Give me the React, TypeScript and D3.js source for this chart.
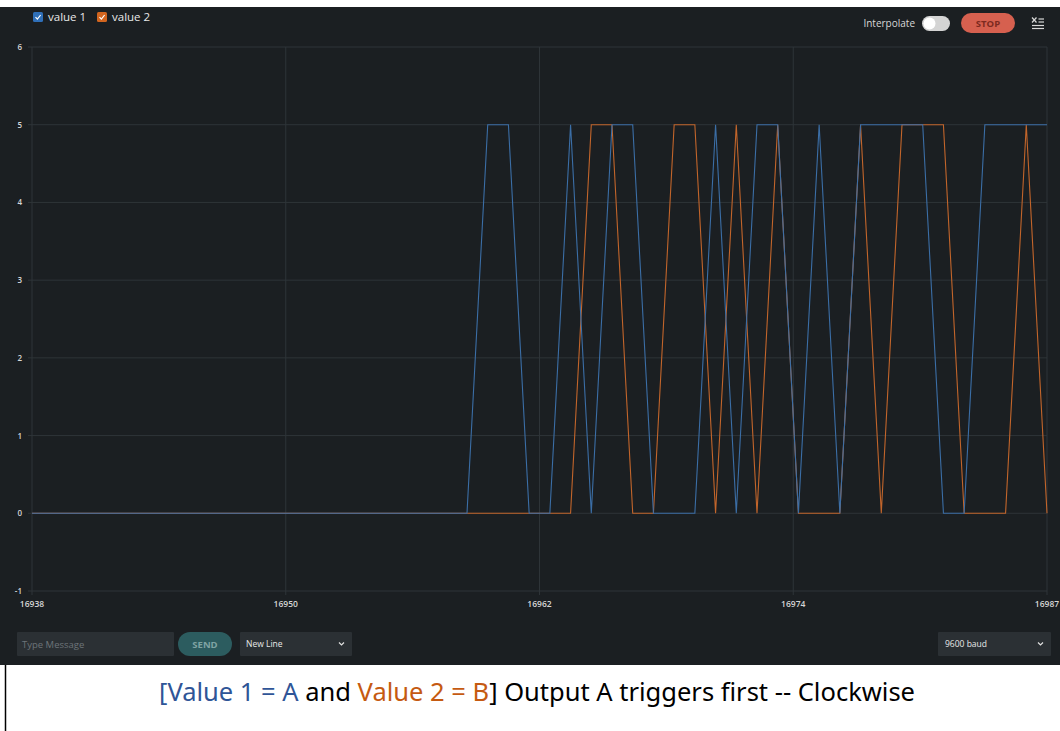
import React from "react";
import * as d3 from "d3";

// ---- data ----
const sampleStart = 16938;
const value1 = [
  0, 0, 0, 0, 0, 0, 0, 0, 0, 0, 0, 0, 0, 0, 0, 0, 0, 0, 0, 0, 0, 0,
  5, 5, 0, 0, 5, 0, 5, 5, 0, 0, 0, 5, 0, 5, 5, 0, 5, 0, 5, 5, 5, 5, 0, 0, 5, 5, 5, 5,
];
const value2 = [
  0, 0, 0, 0, 0, 0, 0, 0, 0, 0, 0, 0, 0, 0, 0, 0, 0, 0, 0, 0, 0, 0, 0, 0, 0, 0, 0,
  5, 5, 0, 0, 5, 5, 0, 5, 0, 5, 0, 0, 0, 5, 0, 5, 5, 5, 0, 0, 0, 5, 0,
];
const seriesNames = ["value 1", "value 2"];
const seriesColors = ["#2f6fb8", "#d2651f"];
const lineColors = ["#3b6ea6", "#c2652b"];
const xTickValues = [16938, 16950.25, 16962.5, 16974.75, 16987];
const xTickLabels = ["16938", "16950", "16962", "16974", "16987"];
const yTickValues = [-1, 0, 1, 2, 3, 4, 5, 6];

const W = 1060;
const H = 731;
const FONT = "'Open Sans', 'Noto Sans', sans-serif";

export default function App() {
  const x = d3.scaleLinear().domain([16938, 16987]).range([32, 1047]);
  const y = d3.scaleLinear().domain([-1, 6]).range([591, 47]);
  const line = d3
    .line<number>()
    .x((_, i) => x(sampleStart + i))
    .y((d) => y(d));
  const bg = "#1b1f22";
  const grid = "#2e3438";
  const series = [value1, value2];

  return (
    <svg
      width={W}
      height={H}
      style={{ position: "absolute", left: 0, top: 0, background: "#ffffff" }}
      fontFamily={FONT}
    >
      <rect x={0} y={7} width={W} height={658} fill={bg} />
      {/* grid */}
      {yTickValues.map((v) => (
        <g key={"y" + v}>
          <line x1={28} x2={1047} y1={y(v)} y2={y(v)} stroke={grid} strokeWidth={1} />
          <text x={22} y={y(v) + 3} fill="#d6d6d6" fontSize={8} fontWeight={600} textAnchor="end">
            {v}
          </text>
        </g>
      ))}
      {xTickValues.map((v, i) => (
        <g key={"x" + v}>
          <line x1={x(v)} x2={x(v)} y1={47} y2={595} stroke={grid} strokeWidth={1} />
          <text x={x(v)} y={607} fill="#d6d6d6" fontSize={8.5} fontWeight={600} textAnchor="middle">
            {xTickLabels[i]}
          </text>
        </g>
      ))}
      {/* series: value 2 first so value 1 is on top */}
      {[1, 0].map((s) => (
        <path
          key={"s" + s}
          d={line(series[s]) || ""}
          fill="none"
          stroke={lineColors[s]}
          strokeWidth={1.1}
          strokeLinejoin="miter"
        />
      ))}
      {/* legend */}
      {seriesNames.map((n, i) => {
        const lx = i === 0 ? 33 : 97;
        return (
          <g key={n}>
            <rect x={lx} y={12} width={10} height={10} rx={1.5} fill={seriesColors[i]} />
            <path
              d={`M${lx + 2.5},${17.2} L${lx + 4.4},${19.2} L${lx + 7.6},${15}`}
              fill="none"
              stroke="#fff"
              strokeWidth={1.2}
            />
            <text x={lx + 15} y={21} fill="#e8e8e8" fontSize={11.5}>
              {n}
            </text>
          </g>
        );
      })}
      {/* top right controls */}
      <text x={915} y={27} fill="#d8d8d8" fontSize={10} textAnchor="end">
        Interpolate
      </text>
      <rect x={922} y={16} width={28} height={15} rx={7.5} fill="#d4d4d4" />
      <circle cx={929.5} cy={23.5} r={6} fill="#ffffff" />
      <rect x={961} y={13} width={54} height={20} rx={10} fill="#d6604f" />
      <text x={988} y={26.5} fill="#7d2a20" fontSize={9.5} fontWeight={700} textAnchor="middle">
        STOP
      </text>
      <g stroke="#d8d8d8" strokeWidth={1.2}>
        <line x1={1038.5} x2={1044} y1={19} y2={19} />
        <line x1={1038.5} x2={1044} y1={22} y2={22} />
        <line x1={1032} x2={1044} y1={25.5} y2={25.5} />
        <line x1={1032} x2={1044} y1={28.5} y2={28.5} />
        <line x1={1032} x2={1036.5} y1={17.5} y2={22.5} />
        <line x1={1036.5} x2={1032} y1={17.5} y2={22.5} />
      </g>
      {/* bottom controls */}
      <rect x={17} y={632} width={157} height={24} rx={1} fill="#2b3034" />
      <text x={22} y={647.5} fill="#6d7479" fontSize={9.5}>
        Type Message
      </text>
      <rect x={178} y={632} width={54} height={24} rx={12} fill="#2c5c5f" />
      <text x={205} y={647.5} fill="#7fa3a3" fontSize={9.5} fontWeight={700} textAnchor="middle">
        SEND
      </text>
      <rect x={240} y={632} width={112} height={24} rx={1} fill="#2b3034" />
      <text x={246} y={647} fill="#e8e8e8" fontSize={8.5}>
        New Line
      </text>
      <path d="M339,642.5 L341.5,645 L344,642.5" fill="none" stroke="#e0e0e0" strokeWidth={1.2} />
      <rect x={938} y={632} width={113} height={24} rx={1} fill="#2b3034" />
      <text x={945} y={647} fill="#e8e8e8" fontSize={8.5}>
        9600 baud
      </text>
      <path d="M1038,642.5 L1040.5,645 L1043,642.5" fill="none" stroke="#e0e0e0" strokeWidth={1.2} />
      {/* caption */}
      <line x1={5.5} x2={5.5} y1={665} y2={731} stroke="#000" strokeWidth={1.5} />
      <text
        x={159}
        y={701}
        fontSize={25}
        fontFamily="'Liberation Sans Narrow', 'Noto Sans', sans-serif"
        textLength={756}
        lengthAdjust="spacingAndGlyphs"
        fill="#000"
      >
        <tspan fill="#2f5597">[Value 1 = A</tspan>
        <tspan> and </tspan>
        <tspan fill="#c55a11">Value 2 = B</tspan>
        <tspan>] Output A triggers first -- Clockwise</tspan>
      </text>
    </svg>
  );
}
